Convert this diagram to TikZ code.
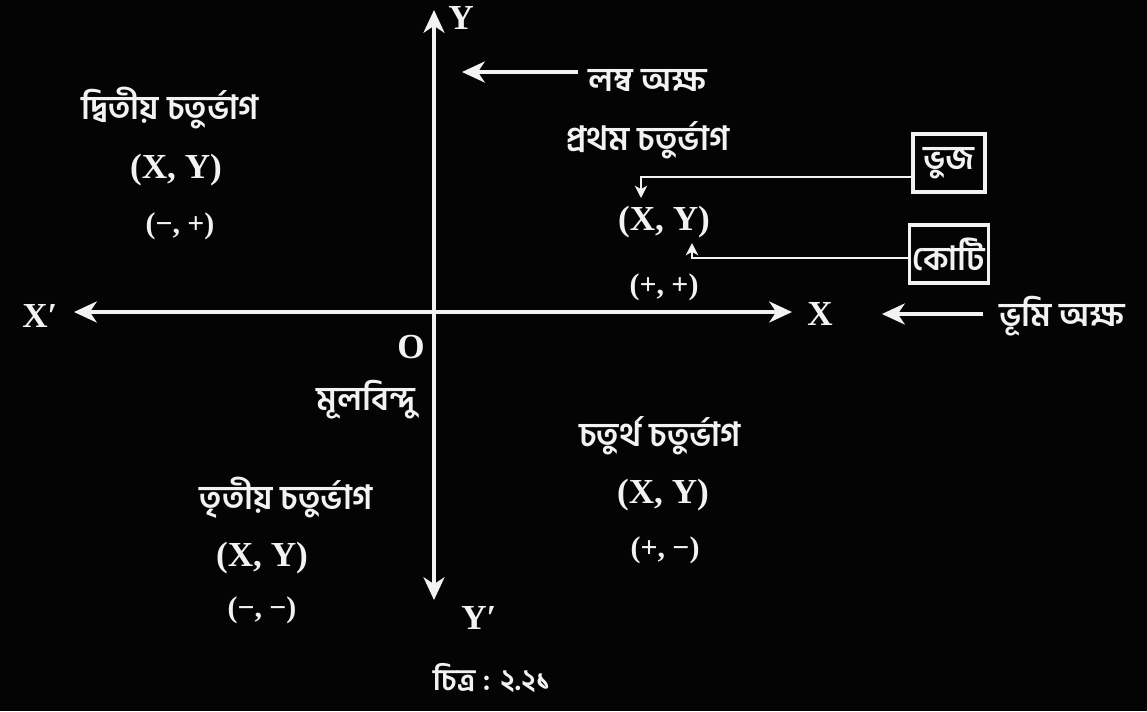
\documentclass[tikz,border=0pt]{standalone}
\usepackage{fontspec}
\setmainfont{Liberation Serif}
\newfontfamily\bn[Script=Bengali]{Hind Siliguri}
\usetikzlibrary{arrows.meta,positioning}
\definecolor{InkWhite} {HTML}{F2F2F2}
\definecolor{PageBlack}{HTML}{040404}
\tikzset{
  axis/.style={InkWhite,line width=1.8pt,
               {Stealth[length=13pt,width=12pt,inset=4pt]}-{Stealth[length=13pt,width=12pt,inset=4pt]}},
  ptr/.style={InkWhite,line width=1.8pt,-{Stealth[length=13pt,width=12pt,inset=4pt]}},
  thinptr/.style={InkWhite,line width=1.5pt,-{Stealth[length=7pt,width=7pt,inset=2pt]}},
  lbl/.style={text=InkWhite,font=\fontsize{20}{22}\selectfont\bfseries},
  sgn/.style={text=InkWhite,font=\fontsize{17}{19}\selectfont\bfseries},
  bnl/.style={text=InkWhite,font=\bn\fontsize{19}{22}\selectfont\bfseries},
  tag/.style={bnl,draw=InkWhite,line width=1.8pt,inner sep=2pt,
              minimum width=1.44cm,minimum height=1.16cm},
}

\begin{document}
\begin{tikzpicture}[x=0.02cm,y=-0.02cm]

  \fill[PageBlack] (0,0) rectangle (1147,711);
  \useasboundingbox (0,0) rectangle (1147,711);

  % axes
  \coordinate (ytop)   at (434,10);
  \coordinate (ybot)   at (434,600);
  \coordinate (xleft)  at (74,312);
  \coordinate (xright) at (792,312);
  \draw[axis] (ybot) -- (ytop);
  \draw[axis] (xleft) -- (xright);

  \node[lbl] (ylab)  at (461,18)  {Y};
  \node[lbl] (yplab) at (479,618) {Y′};
  \node[lbl] (xplab) at (40,316)  {X′};
  \node[lbl] (xlab)  at (820,314) {X};
  \node[lbl] (olab)  at (411,347) {O};
  \node[bnl] (mul)   at (366,400) {মূলবিন্দু};

  % axis names
  \node[bnl] (lamba) at (648,80)  {লম্ব অক্ষ};
  \coordinate (lambatip) at (462,72);
  \draw[ptr] ([xshift=-0.1cm]lamba.west |- lambatip) -- (lambatip);
  \node[bnl] (bhumi) at (1062,316) {ভূমি অক্ষ};
  \coordinate (bhumitip) at (882,314);
  \draw[ptr] ([xshift=-0.2cm]bhumi.west |- bhumitip) -- (bhumitip);

  % second quadrant
  \node[bnl] (q2)   at (170,108) {দ্বিতীয় চতুর্ভাগ};
  \node[lbl] (q2xy) at (176,170) {(X, Y)};
  \node[sgn] (q2sg) at (180,226) {(−, +)};

  % first quadrant
  \node[bnl] (q1)   at (648,140) {প্রথম চতুর্ভাগ};
  \node[lbl] (q1xy) at (664,222) {(X, Y)};
  \node[sgn] (q1sg) at (664,287) {(+, +)};
  \node[tag] (bhuj) at (949,163) {ভুজ};
  \node[tag] (koti) at (949,254) {কোটি};
  \coordinate (bhujtip) at (641,198);
  \coordinate (kotitip) at (692,243);
  \draw[thinptr] ([yshift=-0.28cm]bhuj.west) -| (bhujtip);
  \draw[thinptr] ([yshift=-0.08cm]koti.west) -| (kotitip);

  % third quadrant
  \node[bnl] (q3)   at (286,498) {তৃতীয় চতুর্ভাগ};
  \node[lbl] (q3xy) at (262,558) {(X, Y)};
  \node[sgn] (q3sg) at (262,610) {(−, −)};

  % fourth quadrant
  \node[bnl] (q4)   at (660,436) {চতুর্থ চতুর্ভাগ};
  \node[lbl] (q4xy) at (663,495) {(X, Y)};
  \node[sgn] (q4sg) at (665,550) {(+, −)};

  \node[bnl,font=\bn\fontsize{17}{19}\selectfont\bfseries,inner sep=1pt] (cap) at (492,678) {চিত্র : ২.২১};

\end{tikzpicture}
\end{document}
